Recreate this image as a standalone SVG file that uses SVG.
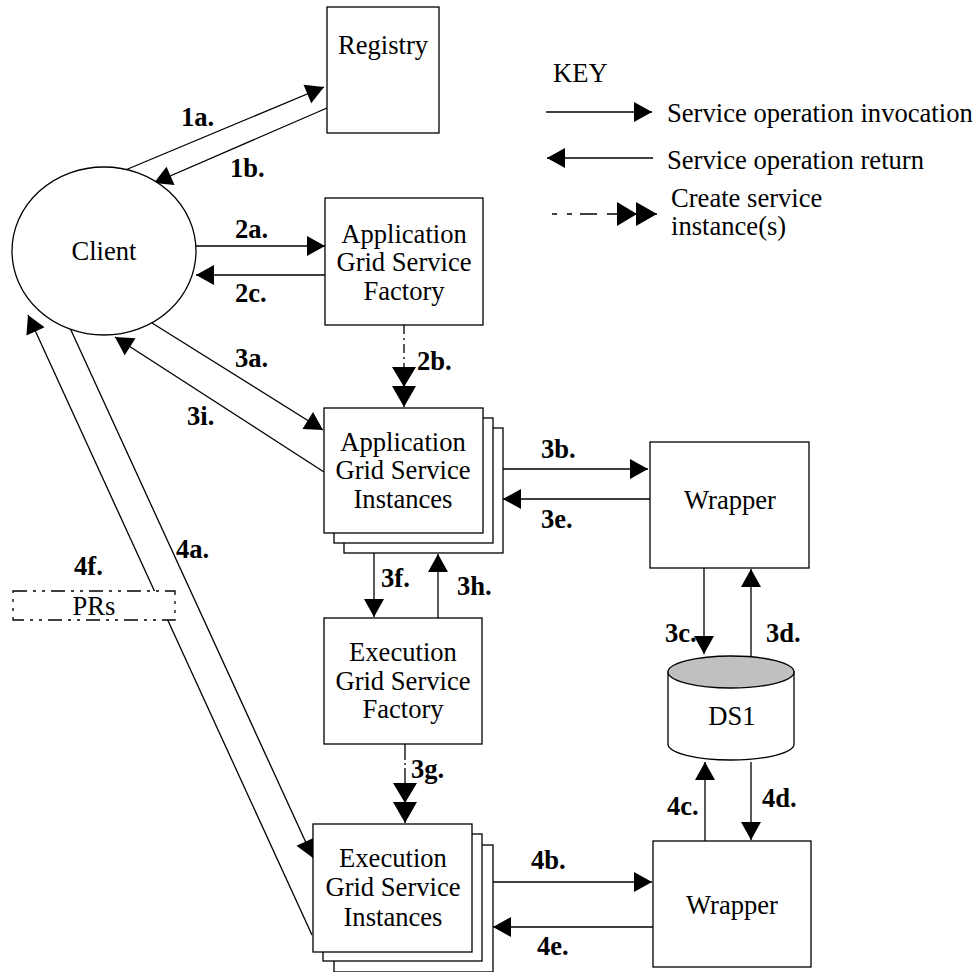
<svg xmlns="http://www.w3.org/2000/svg" width="978" height="972" viewBox="0 0 978 972">
<defs>
<style>
.box{fill:#fff;stroke:#000;stroke-width:1.3}
.t{font-family:"Liberation Serif","Times New Roman",serif;font-size:26.6px;fill:#000}
.c{text-anchor:middle}
.lb{font-family:"Liberation Serif","Times New Roman",serif;font-size:26.6px;font-weight:bold;fill:#000}
.ln{stroke:#000;stroke-width:1.3;fill:none}
.a{marker-end:url(#arr)}
.cr{stroke-dasharray:9,4,2,4;marker-end:url(#dbl)}
</style>
<marker id="arr" markerUnits="userSpaceOnUse" markerWidth="18" markerHeight="20" refX="18" refY="10" orient="auto" overflow="visible">
<path d="M0,0 L18,10 L0,20 z" fill="#000"/>
</marker>
<marker id="dbl" markerUnits="userSpaceOnUse" markerWidth="40" markerHeight="24" refX="40" refY="12" orient="auto" overflow="visible">
<path d="M0,0 L20,12 L0,24 z M19,0 L40,12 L19,24 z" fill="#000"/>
</marker>
</defs>
<rect width="978" height="972" fill="#fff"/>

<g id="connectors">
<line class="ln a" x1="123" y1="171" x2="324" y2="87"/>
<line class="ln a" x1="327" y1="108" x2="154" y2="183"/>
<line class="ln a" x1="196" y1="246" x2="325" y2="246"/>
<line class="ln a" x1="325" y1="275" x2="196" y2="275"/>
<line class="ln cr" x1="404" y1="325" x2="404" y2="407"/>
<line class="ln a" x1="152" y1="323" x2="323" y2="430"/>
<line class="ln a" x1="324" y1="472" x2="115" y2="337"/>
<line class="ln a" x1="70" y1="328" x2="313" y2="858"/>
<line class="ln a" x1="312" y1="935" x2="28" y2="315"/>
<line class="ln a" x1="503" y1="469" x2="648" y2="469"/>
<line class="ln a" x1="650" y1="499" x2="503" y2="499"/>
<line class="ln a" x1="374" y1="553" x2="374" y2="617"/>
<line class="ln a" x1="438" y1="618" x2="438" y2="554"/>
<line class="ln" x1="405" y1="744" x2="405" y2="823" stroke-dasharray="16,3,2,3" marker-end="url(#dbl)"/>
<line class="ln a" x1="704" y1="568" x2="704" y2="654"/>
<line class="ln a" x1="751" y1="657" x2="751" y2="569"/>
<line class="ln a" x1="705" y1="841" x2="705" y2="762"/>
<line class="ln a" x1="751" y1="762" x2="751" y2="840"/>
<line class="ln a" x1="493" y1="882" x2="652" y2="882"/>
<line class="ln a" x1="653" y1="927" x2="493" y2="927"/>
</g>

<g id="registry">
<rect class="box" x="327" y="7" width="112" height="126"/>
<text class="t c" x="383" y="54">Registry</text>
</g>

<g id="client">
<ellipse class="box" cx="104" cy="251" rx="92" ry="84"/>
<text class="t c" x="104" y="260">Client</text>
</g>

<g id="app-factory">
<rect class="box" x="325" y="198" width="158" height="127"/>
<text class="t c" x="404" y="243">Application</text>
<text class="t c" x="404" y="271">Grid Service</text>
<text class="t c" x="404" y="300">Factory</text>
</g>

<g id="app-instances">
<rect class="box" x="344" y="428" width="159" height="125"/>
<rect class="box" x="334" y="418" width="159" height="125"/>
<rect class="box" x="324" y="408" width="159" height="125"/>
<text class="t c" x="403" y="451">Application</text>
<text class="t c" x="403" y="479">Grid Service</text>
<text class="t c" x="403" y="508">Instances</text>
</g>

<g id="wrapper-1">
<rect class="box" x="650" y="442" width="159" height="126"/>
<text class="t c" x="730" y="509">Wrapper</text>
</g>

<g id="exec-factory">
<rect class="box" x="324" y="618" width="158" height="126"/>
<text class="t c" x="403" y="661">Execution</text>
<text class="t c" x="403" y="690">Grid Service</text>
<text class="t c" x="403" y="718">Factory</text>
</g>

<g id="ds1">
<path class="box" d="M668,672 L668,744 A63,16 0 0 0 794,744 L794,672 z"/>
<ellipse cx="731" cy="672" rx="63" ry="16" fill="#c0c0c0" stroke="#000" stroke-width="1.3"/>
<text class="t c" x="732" y="725">DS1</text>
</g>

<g id="exec-instances">
<rect class="box" x="334" y="845" width="159" height="127"/>
<rect class="box" x="323" y="834" width="159" height="127"/>
<rect class="box" x="313" y="824" width="159" height="128"/>
<text class="t c" x="393" y="867">Execution</text>
<text class="t c" x="393" y="896">Grid Service</text>
<text class="t c" x="393" y="926">Instances</text>
</g>

<g id="wrapper-2">
<rect class="box" x="653" y="841" width="158" height="126"/>
<text class="t c" x="732" y="914">Wrapper</text>
</g>

<g id="prs">
<rect x="13" y="591" width="162" height="29" fill="#fff" stroke="#000" stroke-width="1.3" stroke-dasharray="14,6,3,6,3,6"/>
<text class="t c" x="94" y="615">PRs</text>
</g>

<g id="labels">
<text class="lb" x="181" y="126">1a.</text>
<text class="lb" x="230" y="177">1b.</text>
<text class="lb" x="235" y="238">2a.</text>
<text class="lb" x="235" y="302">2c.</text>
<text class="lb" x="417" y="370">2b.</text>
<text class="lb" x="235" y="367">3a.</text>
<text class="lb" x="187" y="425">3i.</text>
<text class="lb" x="541" y="458">3b.</text>
<text class="lb" x="541" y="528">3e.</text>
<text class="lb" x="381" y="587">3f.</text>
<text class="lb" x="457" y="595">3h.</text>
<text class="lb" x="665" y="642">3c.</text>
<text class="lb" x="766" y="642">3d.</text>
<text class="lb" x="411" y="778">3g.</text>
<text class="lb" x="176" y="558">4a.</text>
<text class="lb" x="74" y="575">4f.</text>
<text class="lb" x="667" y="815">4c.</text>
<text class="lb" x="762" y="807">4d.</text>
<text class="lb" x="531" y="869">4b.</text>
<text class="lb" x="537" y="955">4e.</text>
</g>

<g id="key">
<text class="t" x="553" y="82">KEY</text>
<line class="ln a" x1="546" y1="112" x2="652" y2="112"/>
<text class="t" x="667" y="122">Service operation invocation</text>
<line class="ln a" x1="653" y1="158" x2="547" y2="158"/>
<text class="t" x="667" y="169">Service operation return</text>
<line class="ln" x1="552" y1="214" x2="657" y2="214" stroke-dasharray="5,10,5,8,17,10,60" marker-end="url(#dbl)"/>
<text class="t" x="671" y="207">Create service</text>
<text class="t" x="671" y="235">instance(s)</text>
</g>
</svg>
